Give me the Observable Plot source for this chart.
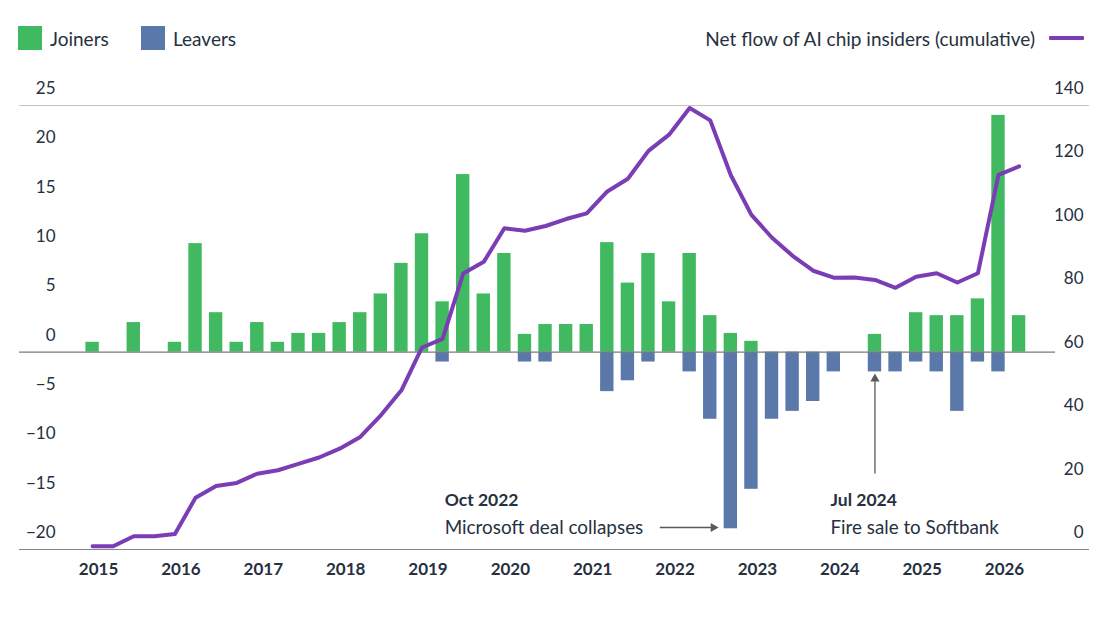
<!DOCTYPE html>
<html>
<head>
<meta charset="utf-8">
<script src="https://cdn.jsdelivr.net/npm/d3@7"></script>
<script src="https://cdn.jsdelivr.net/npm/@observablehq/plot@0.6"></script>
<style>
  body { margin: 0; background: #fff; font-family: Lato, sans-serif; color: #263040; }
  #legend { position: relative; height: 70px; font-size: 19px; }
  .item { position: absolute; top: 26px; height: 24px; display: flex; align-items: center; white-space: nowrap; }
  .sw { width: 24px; height: 24px; margin-right: 8px; }
  .ln { width: 35px; height: 4px; margin-left: 14px; border-radius: 1px; }
</style>
</head>
<body>
<div id="legend"></div>
<div id="chart"></div>
<script>
// Quarterly hires and departures of AI chip specialists, with the running net total
const years = [2015, 2016, 2017, 2018, 2019, 2020, 2021, 2022, 2023, 2024, 2025, 2026];
const quarters = years.flatMap(y => ["Q1", "Q2", "Q3", "Q4"].map(q => `${y} ${q}`)).slice(0, 46);

const joiners = [1, 0, 3, 0, 1, 11, 4, 1, 3, 1, 1.9, 1.9,
                 3, 4, 5.9, 9, 12, 5.1, 18, 5.9, 10, 1.8, 2.8, 2.8,
                 2.8, 11.1, 7, 10, 5.1, 10, 3.7, 1.9, 1.1, 0, 0, 0,
                 0, 0, 1.8, 0, 4, 3.7, 3.7, 5.4, 24, 3.7];

const leavers = [0, 0, 0, 0, 0, 0, 0, 0, 0, 0, 0, 0,
                 0, 0, 0, 0, 0, -1, 0, 0, 0, -1, -1, 0,
                 0, -4, -2.9, -1, 0, -2, -6.8, -17.9, -13.9, -6.8, -6, -5,
                 -2, 0, -2, -2, -1, -2, -6, -1, -2, 0];

const netFlow = [1, 1, 4.2, 4.2, 4.9, 16.3, 20, 21, 23.9, 25, 27, 29,
                 31.8, 35.5, 42.3, 50.2, 63.7, 66.4, 87, 90.7, 101.3, 100.5, 102, 104.2,
                 106, 112.9, 116.9, 125.7, 130.8, 139.2, 135.3, 118, 105.5, 98.3, 92.6, 87.9,
                 85.7, 85.8, 85, 82.5, 86, 87.1, 84.2, 87.1, 118.1, 120.8];

const leftTicks = [-20, -15, -10, -5, 0, 5, 10, 15, 20, 25];
const rightTicks = [0, 20, 40, 60, 80, 100, 120, 140];

const events = [
  {quarter: "2022 Q4", title: "Oct 2022", text: "Microsoft deal collapses"},
  {quarter: "2024 Q3", title: "Jul 2024", text: "Fire sale to Softbank"}
];

const GREEN = "#40b960", BLUE = "#5b78aa", PURPLE = "#7a3db5", INK = "#263040", ARROW = "#5a5a5a";

// legend
const legend = document.getElementById("legend");
legend.innerHTML = `
  <div class="item" style="left:18px"><span class="sw" style="background:${GREEN}"></span>Joiners</div>
  <div class="item" style="left:141px"><span class="sw" style="background:${BLUE}"></span>Leavers</div>
  <div class="item" style="right:36px">Net flow of AI chip insiders (cumulative)<span class="ln" style="background:${PURPLE}"></span></div>`;

// the cumulative series shares the left scale: 0..140 maps onto -20..25
const L0 = -20, L1 = 25, R0 = 0, R1 = 140;
const toLeft = v => L0 + (v - R0) * (L1 - L0) / (R1 - R0);
const fromLeft = v => R0 + (v - L0) * (R1 - R0) / (L1 - L0);

const rows = quarters.map((q, i) => ({q, i, joiners: joiners[i], leavers: leavers[i], net: netFlow[i]}));
const idx = q => quarters.indexOf(q);

const XMIN = -3.55, XMAX = 48.42, XZERO_END = 46.77;
const HALF = 0.325; // half bar width, in quarters

const chart = Plot.plot({
  width: 1120,
  height: 548,
  marginTop: 35,
  marginBottom: 69,
  marginLeft: 19,
  marginRight: 31,
  style: {fontFamily: "Lato, sans-serif", fontSize: "17px", color: INK, background: "#fff"},
  x: {type: "linear", domain: [XMIN, XMAX], label: null},
  y: {domain: [L0, L1], label: null},
  marks: [
    Plot.ruleY([L1], {x1: XMIN, x2: XMAX, stroke: "#c4c4c4", strokeWidth: 1.2}),
    Plot.ruleY([L0], {x1: XMIN, x2: XMAX, stroke: "#858585", strokeWidth: 1.2}),
    Plot.rectY(rows.filter(d => d.joiners > 0), {
      x1: d => d.i - HALF, x2: d => d.i + HALF, y1: 0, y2: "joiners", fill: GREEN
    }),
    Plot.rectY(rows.filter(d => d.leavers < 0), {
      x1: d => d.i - HALF, x2: d => d.i + HALF, y1: 0, y2: "leavers", fill: BLUE
    }),
    Plot.ruleY([0], {x1: XMIN, x2: XZERO_END, stroke: "#7b7b7b", strokeWidth: 1.2}),
    Plot.line(rows, {
      x: "i", y: d => toLeft(d.net), stroke: PURPLE, strokeWidth: 4,
      strokeLinejoin: "round", strokeLinecap: "round"
    }),

    // Oct 2022 note with an arrow to the big departure bar
    Plot.text([events[0]], {x: 17.1, y: -15.06, text: "title", textAnchor: "start", lineAnchor: "middle", fontWeight: "bold", fontSize: 17.5, fill: INK}),
    Plot.text([events[0]], {x: 17.1, y: -17.77, text: "text", textAnchor: "start", lineAnchor: "middle", fontSize: 18.9, fill: INK}),
    Plot.link([events[0]], {x1: 27.55, x2: d => idx(d.quarter) - 0.8, y1: -17.77, y2: -17.77, stroke: ARROW, strokeWidth: 1.3}),
    Plot.dot([events[0]], {x: d => idx(d.quarter) - 0.85, y: -17.77, symbol: "triangle", r: 3.4, rotate: 90, fill: ARROW, stroke: "none"}),

    // Jul 2024 note with an upward arrow
    Plot.text([events[1]], {x: 35.84, y: -15.06, text: "title", textAnchor: "start", lineAnchor: "middle", fontWeight: "bold", fontSize: 17.5, fill: INK}),
    Plot.text([events[1]], {x: 35.84, y: -17.77, text: "text", textAnchor: "start", lineAnchor: "middle", fontSize: 18.8, fill: INK}),
    Plot.link([events[1]], {x1: d => idx(d.quarter), x2: d => idx(d.quarter), y1: -12.3, y2: -2.9, stroke: ARROW, strokeWidth: 1.3}),
    Plot.dot([events[1]], {x: d => idx(d.quarter), y: -2.7, symbol: "triangle", r: 3.4, fill: ARROW, stroke: "none"}),

    // axes: labels sit inside the plot area, raised above their gridlines
    Plot.axisY(leftTicks, {anchor: "left", tickSize: 0, tickPadding: 0, dx: 36, dy: -17, fill: INK, fontSize: 17}),
    Plot.axisY(rightTicks.map(toLeft), {
      anchor: "right", tickSize: 0, tickPadding: 0, textAnchor: "end", dx: -6, dy: -17,
      tickFormat: v => String(Math.round(fromLeft(v))), fill: INK, fontSize: 17
    }),
    Plot.axisX(years.map((y, k) => k * 4), {
      tickSize: 0, tickPadding: 0, dx: 6, dy: 20, lineAnchor: "middle",
      tickFormat: v => String(years[Math.round(v / 4)]), fontWeight: "bold", fill: INK, fontSize: 17
    })
  ]
});

document.getElementById("chart").append(chart);
</script>
</body>
</html>
